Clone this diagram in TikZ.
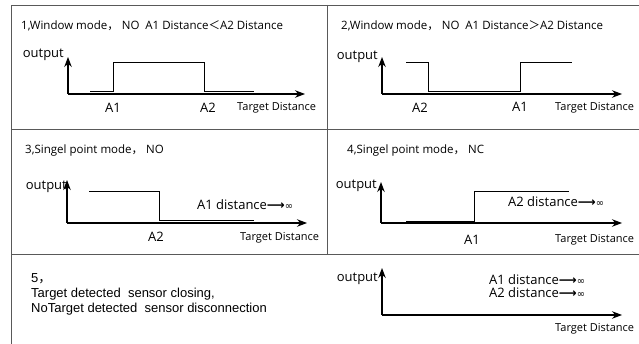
\documentclass[tikz,border=0pt]{standalone}
\usepackage{fontspec}
\setmainfont{Open Sans}
\newfontfamily\cjk{Noto Sans CJK SC}
\newfontfamily\arialfont{Liberation Sans}
\newfontfamily\symfont{DejaVu Sans}
\usetikzlibrary{arrows.meta}

\newcommand\modetitlestyle{\fontsize{11.5}{13}\selectfont}
\newcommand\axistextstyle{\fontsize{13}{15}\selectfont}
\newcommand\targetstyle{\fontsize{11}{13}\selectfont}
\newcommand\notestyle{\arialfont\fontsize{13}{15}\selectfont}
\newcommand\toinf{{\symfont\bfseries\fontsize{12.5}{13}\selectfont ⟶}{\symfont\fontsize{10}{11}\selectfont ∞}}

\tikzset{
  frameline/.style={line width=0.9pt, black!65},
  axis/.style={line width=1.1pt, -{Stealth[length=10pt, width=7.5pt]}},
  signal/.style={line width=0.8pt},
  lbl/.style={inner sep=0pt, font=\axistextstyle},
}

% axes of one panel: name, x0, y0, x end, y top
\newcommand\outaxes[5]{
  \coordinate (#1o) at (#2, #3) ;
  \coordinate (#1x) at (#4, #3) ;
  \coordinate (#1y) at (#2, #5) ;
  \draw[axis] (#1o) -- (#1x) ;
  \draw[axis] (#1o) -- (#1y) ;
}

\begin{document}
\begin{tikzpicture}[x=1pt, y=-1pt]
  \useasboundingbox (0, 0) rectangle (639, 344) ;

  % frame
  \draw[frameline] (11, 344) -- (11, 5) -- (639, 5) ;
  \draw[frameline] (11, 129) -- (639, 129) ;
  \draw[frameline] (11, 254) -- (639, 254) ;
  \draw[frameline] (327, 5) -- (327, 254) ;

  % 1
  \node[lbl, anchor=base west, font=\modetitlestyle] (t1) at (21, 30)
    {1,Window mode{\cjk ，} NO\ \ A1 Distance{\cjk ＜}A2 Distance} ;
  \outaxes{p1}{68}{94}{305}{57}
  \node[lbl, anchor=east] (out1) at (64, 55) {output} ;
  \draw[signal] (90, 91) -- (113, 91) -- (113, 62) -- (204, 62) -- (204, 91) -- (254, 91) ;
  \node[lbl] (a11) at (113, 108) {A1} ;
  \node[lbl] (a21) at (208, 108) {A2} ;
  \node[lbl, anchor=west, font=\targetstyle] (td1) at (237, 108) {Target Distance} ;

  % 2
  \node[lbl, anchor=base west, font=\modetitlestyle] (t2) at (341, 30)
    {2,Window mode{\cjk ，} NO\ \ A1 Distance{\cjk ＞}A2 Distance} ;
  \outaxes{p2}{382}{94}{622}{57}
  \node[lbl, anchor=east] (out2) at (378, 57) {output} ;
  \draw[signal] (406, 62) -- (428, 62) -- (428, 91) -- (520, 91) -- (520, 62) -- (572, 62) ;
  \node[lbl] (a22) at (420, 108) {A2} ;
  \node[lbl] (a12) at (520, 107) {A1} ;
  \node[lbl, anchor=west, font=\targetstyle] (td2) at (555, 108) {Target Distance} ;

  % 3
  \node[lbl, anchor=base west, font=\modetitlestyle] (t3) at (25, 154)
    {3,Singel point mode{\cjk ，} NO} ;
  \outaxes{p3}{67}{223}{307}{180}
  \node[lbl, anchor=east] (out3) at (67, 187) {output} ;
  \draw[signal] (89, 191) -- (159, 191) -- (159, 220) -- (254, 220) ;
  \node[lbl, anchor=west] (inf3) at (197, 205) {A1 distance\toinf} ;
  \node[lbl] (a23) at (156, 237) {A2} ;
  \node[lbl, anchor=west, font=\targetstyle] (td3) at (240, 238) {Target Distance} ;

  % 4
  \node[lbl, anchor=base west, font=\modetitlestyle] (t4) at (347, 154)
    {4,Singel point mode{\cjk ，} NC} ;
  \outaxes{p4}{381}{223}{622}{182}
  \node[lbl, anchor=east] (out4) at (377, 186) {output} ;
  \draw[signal] (406, 221) -- (474, 221) -- (474, 191) -- (569, 191) ;
  \node[lbl, anchor=west] (inf4) at (508, 202) {A2 distance\toinf} ;
  \node[lbl] (a14) at (472, 240) {A1} ;
  \node[lbl, anchor=west, font=\targetstyle] (td4) at (555, 240) {Target Distance} ;

  % 5
  \node[lbl, anchor=north west, align=left, font=\notestyle] (note5) at (31, 273)
    {5{\cjk ，}\\Target detected\ \ sensor closing,\\NoTarget detected\ \ sensor disconnection} ;
  \outaxes{p5}{382}{315}{622}{268}
  \node[lbl, anchor=east] (out5) at (378, 279) {output} ;
  \node[lbl, anchor=west] (inf15) at (489, 280) {A1 distance\toinf} ;
  \node[lbl, anchor=west] (inf25) at (489, 293) {A2 distance\toinf} ;
  \node[lbl, anchor=west, font=\targetstyle] (td5) at (555, 329) {Target Distance} ;
\end{tikzpicture}
\end{document}
